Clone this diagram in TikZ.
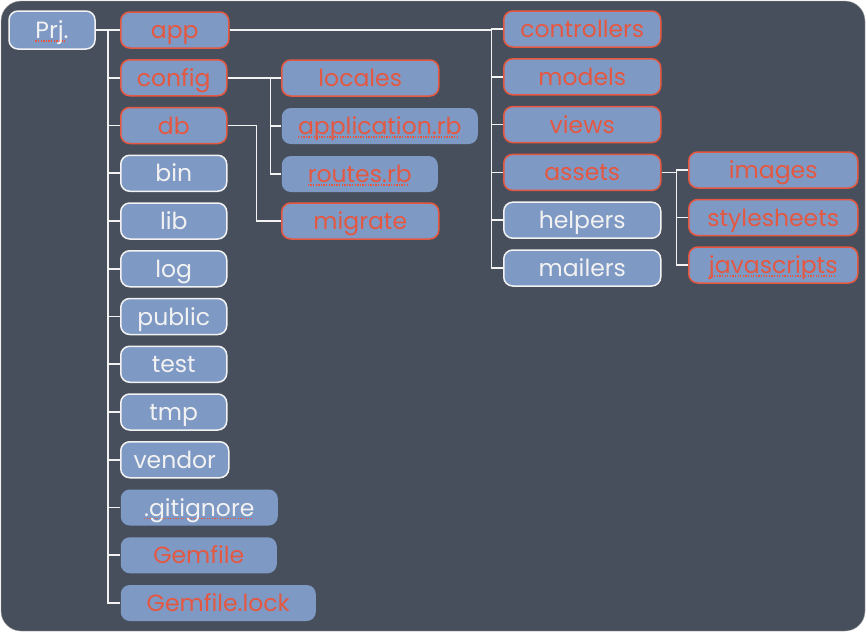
\documentclass[tikz,border=0pt]{standalone}
\usepackage{fontspec}
\setmainfont{Poppins}
\usetikzlibrary{positioning}
\definecolor{board}{RGB}{72,79,92}
\definecolor{boxblue}{RGB}{127,153,197}
\definecolor{chalkred}{RGB}{228,88,66}
\definecolor{chalkwhite}{RGB}{242,242,242}
% red dotted spell-check line under a word
\newcommand{\spellchk}[1]{\setbox0\hbox{#1}\rlap{\raisebox{-3pt}{\textcolor{chalkred}{\leaders\hbox to 2.6pt{\rule{1.3pt}{1.2pt}\hss}\hskip\wd0}}}#1}
\tikzset{
    box/.style={rectangle, rounded corners=9pt, fill=boxblue, minimum height=36pt, minimum width=106pt, inner sep=0pt, text height=19pt, text depth=2pt, line width=1.5pt, font=\fontsize{23.5}{24}\selectfont},
    redbox/.style={box, draw=chalkred, text=chalkred},
    whitebox/.style={box, draw=chalkwhite, text=chalkwhite},
    redfile/.style={box, text=chalkred},
    whitefile/.style={box, text=chalkwhite},
    branch/.style={draw=chalkwhite, line width=1.6pt},
}
\begin{document}
\begin{tikzpicture}[x=1pt, y=-1pt]
    \useasboundingbox (0,0) rectangle (866,632);
    \fill[white] (0,0) rectangle (866,632);
    \draw[fill=board, draw=gray!70, rounded corners=20pt] (1,1) rectangle (865,631);

    \node[whitebox, minimum width=86, minimum height=38] (prj) at (52,30) {\spellchk{Prj.}};

    % project root
    \foreach \n/\t/\s/\w [count=\i from 0] in {app/app/redbox/108, config/config/redbox/106, db/db/redbox/106, bin/bin/whitebox/106, lib/lib/whitebox/106, log/log/whitebox/106, public/public/whitebox/106, test/test/whitebox/106, tmp/tmp/whitebox/106, vendor/vendor/whitebox/108, gitignore/\spellchk{.gitignore}/whitefile/157, gemfile/Gemfile/redfile/156, gemlock/Gemfile.lock/redfile/195}
        \node[\s, minimum width=\w, anchor=west] (\n) at (120, 30+47.75*\i) {\t};

    % app
    \foreach \n/\s [count=\i from 0] in {controllers/redbox, models/redbox, views/redbox, assets/redbox, helpers/whitebox, mailers/whitebox}
        \node[\s, minimum width=157, anchor=west] (\n) at (503, 29+47.8*\i) {\n};

    % assets
    \foreach \n/\t/\s [count=\i from 0] in {images/images/redbox, stylesheets/stylesheets/redbox, javascripts/\spellchk{javascripts}/redbox}
        \node[\s, minimum width=169, anchor=west] (\n) at (688, 170+47.5*\i) {\t};

    % config and db
    \node[redbox, minimum width=157, anchor=west] (locales) at (281,78) {locales};
    \node[redfile, minimum width=196, anchor=west] (application) at (281,126) {\spellchk{application.rb}};
    \node[redfile, minimum width=156, anchor=west] (routes) at (281,174) {\spellchk{routes.rb}};
    \node[redbox, minimum width=157, anchor=west] (migrate) at (281,221) {migrate};

    \foreach \c in {app,config,db,bin,lib,log,public,test,tmp,vendor,gitignore,gemfile,gemlock}
        \draw[branch] (prj.east) -- ++(12,0) |- (\c.west);
    \foreach \c in {controllers,models,views,assets,helpers,mailers}
        \draw[branch] (app.east) -- ++(262,0) |- (\c.west);
    \foreach \c in {locales,application,routes}
        \draw[branch] (config.east) -- ++(43,0) |- (\c.west);
    \draw[branch] (db.east) -- ++(29,0) |- (migrate.west);
    \foreach \c in {images,stylesheets,javascripts}
        \draw[branch] (assets.east) -- ++(15,0) |- (\c.west);
\end{tikzpicture}
\end{document}
